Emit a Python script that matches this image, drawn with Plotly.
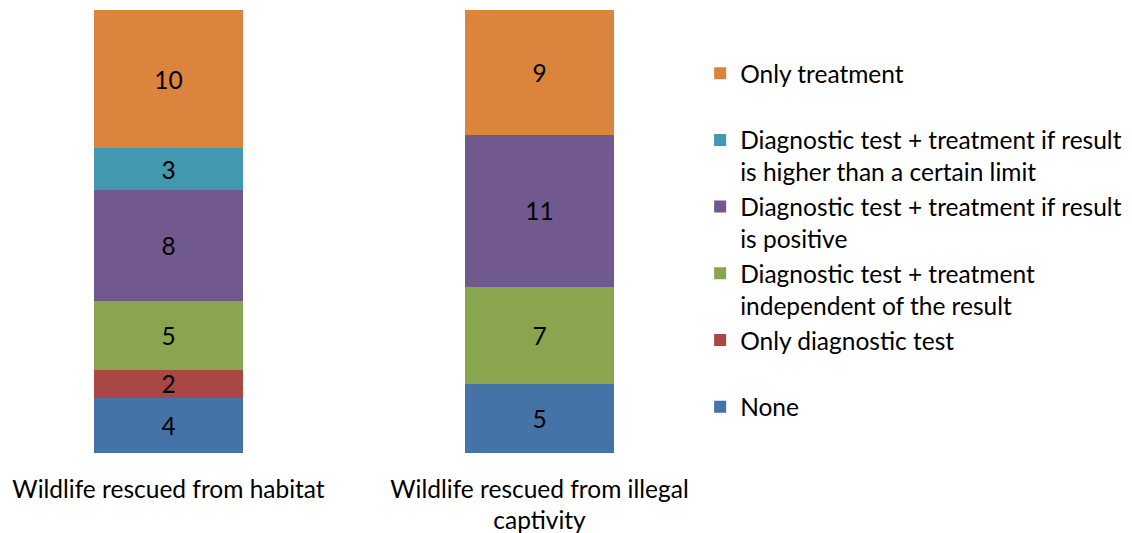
import plotly.graph_objects as go

categories = ["Wildlife rescued from habitat", "Wildlife rescued from illegal<br>captivity"]

series_names = [
    "None",
    "Only diagnostic test",
    "Diagnostic test + treatment<br>independent of the result",
    "Diagnostic test + treatment if result<br>is positive",
    "Diagnostic test + treatment if result<br>is higher than a certain limit",
    "Only treatment",
]
none_vals = [4, 5]
only_diag_vals = [2, 0]
indep_vals = [5, 7]
positive_vals = [8, 11]
limit_vals = [3, 0]
only_treat_vals = [10, 9]

series_values = [none_vals, only_diag_vals, indep_vals, positive_vals, limit_vals, only_treat_vals]
colors = ["#4572A7", "#AA4643", "#89A54E", "#71588F", "#4198AF", "#DB843D"]

FONT = "Lato"
FS = 24.5

fig = go.Figure()
for name, vals, col in zip(series_names, series_values, colors):
    # single-line entries padded to two lines so legend rows are evenly spaced
    legend_name = name if "<br>" in name else name + "<br> "
    fig.add_trace(go.Bar(
        x=categories,
        y=vals,
        name=legend_name,
        marker=dict(color=col, line=dict(width=0)),
        text=[str(v) if v else "" for v in vals],
        textposition="inside",
        insidetextanchor="middle",
        textangle=0,
        textfont=dict(family=FONT, size=FS, color="black"),
        width=0.4,
        legendgroup=name,
    ))

fig.update_layout(
    width=1132,
    height=533,
    barmode="stack",
    paper_bgcolor="white",
    plot_bgcolor="white",
    margin=dict(l=0, r=0, t=10, b=80),
    font=dict(family=FONT, size=FS, color="black"),
    uniformtext=dict(minsize=FS, mode="show"),
    showlegend=True,
    legend=dict(
        traceorder="reversed",
        x=0.6185, xanchor="left",
        y=0.908, yanchor="top",
        valign="top",
        tracegroupgap=0,
        font=dict(family=FONT, size=FS, color="black"),
        bgcolor="rgba(0,0,0,0)",
    ),
    xaxis=dict(
        type="category",
        range=[-168.5 / 371, (1132 - 168.5) / 371],
        showgrid=False, showline=False, zeroline=False,
        ticks="", ticklabelstandoff=19,
        tickfont=dict(family=FONT, size=FS, color="black"),
    ),
    yaxis=dict(
        range=[0, 32],
        visible=False,
        showgrid=False, zeroline=False,
    ),
)

fig.write_html("out.html")
